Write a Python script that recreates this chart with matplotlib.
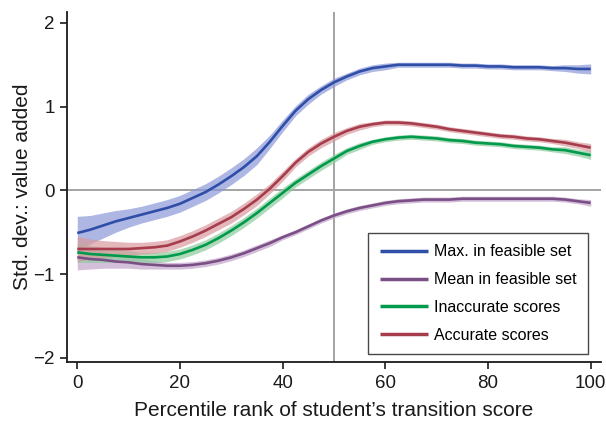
import matplotlib
matplotlib.use("Agg")
import matplotlib.pyplot as plt
import numpy as np

plt.rcParams['font.family'] = ['Liberation Sans', 'DejaVu Sans']

# Percentile rank of student's transition score
percentile = [0, 2.5, 5, 7.5, 10, 12.5, 15, 17.5, 20, 22.5, 25, 27.5, 30, 32.5, 35, 37.5,
              40, 42.5, 45, 47.5, 50, 52.5, 55, 57.5, 60, 62.5, 65, 67.5, 70, 72.5, 75,
              77.5, 80, 82.5, 85, 87.5, 90, 92.5, 95, 97.5, 100]

# Value added (std. dev.) and half-widths of the confidence bands
max_feasible = [-0.51, -0.47, -0.42, -0.37, -0.33, -0.29, -0.25, -0.21, -0.16, -0.09,
                -0.02, 0.07, 0.17, 0.28, 0.41, 0.58, 0.77, 0.95, 1.09, 1.20, 1.29,
                1.36, 1.42, 1.46, 1.48, 1.50, 1.50, 1.50, 1.50, 1.50, 1.49,
                1.49, 1.48, 1.48, 1.47, 1.47, 1.47, 1.46, 1.46, 1.45, 1.45]
max_feasible_ci = [0.20, 0.17, 0.15, 0.13, 0.11, 0.10, 0.10, 0.10, 0.10, 0.10,
                   0.10, 0.10, 0.10, 0.10, 0.10, 0.08, 0.07, 0.06, 0.06, 0.05, 0.05,
                   0.04, 0.04, 0.04, 0.04, 0.03, 0.03, 0.03, 0.03, 0.03, 0.03,
                   0.03, 0.03, 0.03, 0.03, 0.03, 0.03, 0.03, 0.04, 0.05, 0.06]

mean_feasible = [-0.80, -0.82, -0.83, -0.85, -0.86, -0.88, -0.89, -0.90, -0.90, -0.89,
                 -0.87, -0.84, -0.80, -0.75, -0.69, -0.63, -0.56, -0.50, -0.43, -0.36, -0.30,
                 -0.25, -0.21, -0.18, -0.15, -0.13, -0.12, -0.11, -0.11, -0.11, -0.10,
                 -0.10, -0.10, -0.10, -0.10, -0.10, -0.10, -0.10, -0.11, -0.13, -0.15]
mean_feasible_ci = [0.15, 0.12, 0.10, 0.08, 0.07, 0.06, 0.05, 0.04, 0.04, 0.04,
                    0.04, 0.04, 0.04, 0.04, 0.04, 0.04, 0.03, 0.03, 0.03, 0.03, 0.03,
                    0.03, 0.03, 0.03, 0.03, 0.03, 0.03, 0.03, 0.03, 0.03, 0.03,
                    0.03, 0.03, 0.03, 0.03, 0.03, 0.03, 0.03, 0.03, 0.03, 0.04]

inaccurate = [-0.74, -0.76, -0.77, -0.78, -0.79, -0.80, -0.80, -0.79, -0.76, -0.71,
              -0.65, -0.57, -0.48, -0.38, -0.27, -0.15, -0.03, 0.09, 0.19, 0.29, 0.38,
              0.47, 0.53, 0.58, 0.61, 0.63, 0.64, 0.63, 0.62, 0.60, 0.59,
              0.57, 0.56, 0.55, 0.53, 0.52, 0.51, 0.49, 0.48, 0.45, 0.42]
inaccurate_ci = [0.12, 0.10, 0.09, 0.08, 0.07, 0.06, 0.06, 0.06, 0.06, 0.06,
                 0.06, 0.06, 0.06, 0.06, 0.06, 0.06, 0.06, 0.05, 0.05, 0.05, 0.05,
                 0.04, 0.04, 0.03, 0.03, 0.03, 0.03, 0.03, 0.03, 0.03, 0.03,
                 0.03, 0.03, 0.03, 0.03, 0.03, 0.03, 0.03, 0.04, 0.04, 0.05]

accurate = [-0.70, -0.70, -0.70, -0.70, -0.70, -0.69, -0.68, -0.66, -0.61, -0.55,
            -0.48, -0.40, -0.32, -0.22, -0.11, 0.02, 0.17, 0.33, 0.46, 0.56, 0.64,
            0.71, 0.76, 0.79, 0.81, 0.81, 0.80, 0.78, 0.76, 0.73, 0.71,
            0.69, 0.67, 0.65, 0.64, 0.62, 0.61, 0.59, 0.57, 0.54, 0.51]
accurate_ci = [0.15, 0.12, 0.10, 0.09, 0.08, 0.07, 0.07, 0.07, 0.07, 0.07,
               0.07, 0.07, 0.07, 0.07, 0.07, 0.06, 0.06, 0.05, 0.05, 0.05, 0.05,
               0.04, 0.04, 0.03, 0.03, 0.03, 0.03, 0.03, 0.03, 0.03, 0.03,
               0.03, 0.03, 0.03, 0.03, 0.03, 0.03, 0.03, 0.04, 0.04, 0.05]

series = [
    ("Max. in feasible set", max_feasible, max_feasible_ci, "#2f4ea8", "#8c98d8"),
    ("Mean in feasible set", mean_feasible, mean_feasible_ci, "#7a4f86", "#c3a5cb"),
    ("Inaccurate scores", inaccurate, inaccurate_ci, "#009a4c", "#8ccb9c"),
    ("Accurate scores", accurate, accurate_ci, "#a63c4c", "#d99a9f"),
]

fig = plt.figure(figsize=(6.06, 4.26), dpi=100)
ax = fig.add_axes([0.1106, 0.1502, 0.8811, 0.8216])

ax.axhline(0, color="#a3a3a3", lw=1.4, zorder=1)
ax.axvline(50, color="#a3a3a3", lw=1.4, zorder=1)

x = np.array(percentile)
for label, vals, ci, col, band in series:
    v = np.array(vals)
    c = np.array(ci)
    ax.fill_between(x, v - c, v + c, color=band, alpha=0.7, lw=0, zorder=2)
for label, vals, ci, col, band in series:
    ax.plot(x, vals, color=col, lw=1.9, label=label, zorder=3,
            solid_capstyle="butt", solid_joinstyle="round")

ax.set_xlim(-2, 102)
ax.set_ylim(-2.05, 2.13)
ax.set_xticks([0, 20, 40, 60, 80, 100])
ax.set_yticks([-2, -1, 0, 1, 2])
ax.set_yticklabels(["\u22122", "\u22121", "0", "1", "2"])

for side in ("top", "right"):
    ax.spines[side].set_visible(False)
for side in ("left", "bottom"):
    ax.spines[side].set_linewidth(1.3)
    ax.spines[side].set_color("#1a1a1a")
ax.tick_params(direction="out", length=5, width=1.2, labelsize=13.5,
               colors="#1a1a1a", pad=4)

ax.set_xlabel("Percentile rank of student\u2019s transition score", fontsize=15,
              color="#1a1a1a", labelpad=7)
ax.set_ylabel("Std. dev.: value added", fontsize=15, color="#1a1a1a", labelpad=1)

leg = ax.legend(loc="upper left", bbox_to_anchor=(0.564, 0.369), borderaxespad=0,
                fontsize=11.5, frameon=True, fancybox=False, edgecolor="#1a1a1a",
                handlelength=3.0, handletextpad=0.4, labelspacing=0.8,
                borderpad=0.72)
leg.get_frame().set_linewidth(1.0)
for line in leg.get_lines():
    line.set_linewidth(2.5)

fig.savefig("out.png", dpi=100)
